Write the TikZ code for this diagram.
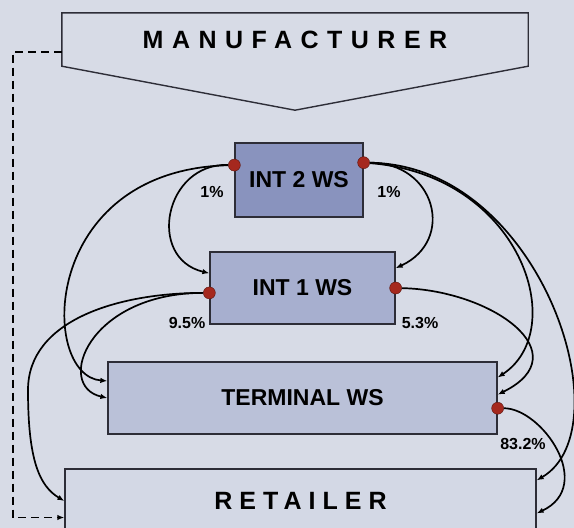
\documentclass[tikz,border=0pt]{standalone}
\usepackage{fontspec}
\setmainfont{Liberation Sans}
\usetikzlibrary{positioning,arrows.meta,calc}

\definecolor{bgcol}{RGB}{215,219,230}
\definecolor{int2col}{RGB}{137,147,190}
\definecolor{int1col}{RGB}{167,175,207}
\definecolor{termcol}{RGB}{186,193,216}
\definecolor{retcol}{RGB}{211,216,229}
\definecolor{dotcol}{RGB}{165,40,30}
\definecolor{edgecol}{RGB}{45,45,55}

\begin{document}
\begin{tikzpicture}[
    x=1pt, y=-1pt,
    wsbox/.style={draw=edgecol, line width=1.3pt, rectangle, align=center, font=\fontsize{23}{26}\selectfont\bfseries},
    spaced/.style={font=\fontsize{25}{28}\selectfont\bfseries\addfontfeature{LetterSpace=#1}},
    dot/.style={circle, draw=dotcol!55!black, fill=dotcol, inner sep=0pt, minimum size=12pt},
    pct/.style={font=\fontsize{16}{18}\selectfont\bfseries, inner sep=0pt},
    flow/.style={-{Latex[length=7pt,width=5.5pt]}, line width=1.7pt}
]
\useasboundingbox (0,0) rectangle (574,528);
\fill[bgcol] (0,0) rectangle (574,528);
\clip (0,0) rectangle (574,528);

% Fornecedor e caixas
\node[spaced=34, minimum width=466pt, minimum height=53pt, inner sep=0pt] (mfr) at (295,39.5) {MANUFACTURER};
\draw[draw=edgecol, line width=1.4pt] (mfr.north west) -- (mfr.north east) -- (mfr.south east) -- ($(mfr.south)+(0,44)$) -- (mfr.south west) -- cycle;

\node[wsbox, fill=int2col, minimum width=128pt, minimum height=74pt] (int2) at (299,180) {INT 2 WS};
\node[wsbox, fill=int1col, minimum width=185pt, minimum height=72pt] (int1) at (302.5,288) {INT 1 WS};
\node[wsbox, fill=termcol, minimum width=389pt, minimum height=72pt] (term) at (302.5,398) {TERMINAL WS};
\node[wsbox, fill=retcol, spaced=28, minimum width=471pt, minimum height=64pt] (ret) at (300.5,501) {RETAILER};

% Pontos de saida
\node[dot] (d2l) at (int2.167) {};
\node[dot] (d2r) at (int2.15) {};
\node[dot] (d1l) at (int1.183) {};
\node[dot] (d1r) at (int1.east) {};
\node[dot] (dtr) at (term.-3) {};

% Fluxos lado direito
\draw[flow] (d2r) .. controls +(72,0) and +(60,-28) .. (int1.12);
\draw[flow] (d2r) .. controls +(157,12) and +(73,-48) .. (term.6);
\draw[flow] (d2r) .. controls +(177,2) and +(89,-52) .. (ret.5);
\draw[flow] (d1r) .. controls +(96,2) and +(83,-41) .. (term.1);
\draw[flow] (dtr) .. controls +(44,0) and +(59,-28) .. (ret.-3);

% Fluxos lado esquerdo
\draw[flow] (d2l) .. controls +(-70,-2) and +(-63,-15) .. (int1.171);
\draw[flow] (d2l) .. controls +(-195,5) and +(-68,-5) .. (term.175);
\draw[flow] (d1l) .. controls +(-121,0) and +(-53,-12) .. (term.180);
\draw[flow] (d1l) .. controls +(-91,0) and +(0,-70) .. (28,390) .. controls +(0,70) and +(-25,-15) .. (ret.180);

% Retorno tracejado
\draw[flow, dash pattern=on 8pt off 5pt] (mfr.183) -- ++(-49,0) |- (ret.184);

% Percentuais
\node[pct] (p2l) at (212,192) {1\%};
\node[pct] (p2r) at (389,192) {1\%};
\node[pct] (p1l) at (187,323) {9.5\%};
\node[pct] (p1r) at (420,323) {5.3\%};
\node[pct] (ptr) at (523,444) {83.2\%};

\end{tikzpicture}
\end{document}
